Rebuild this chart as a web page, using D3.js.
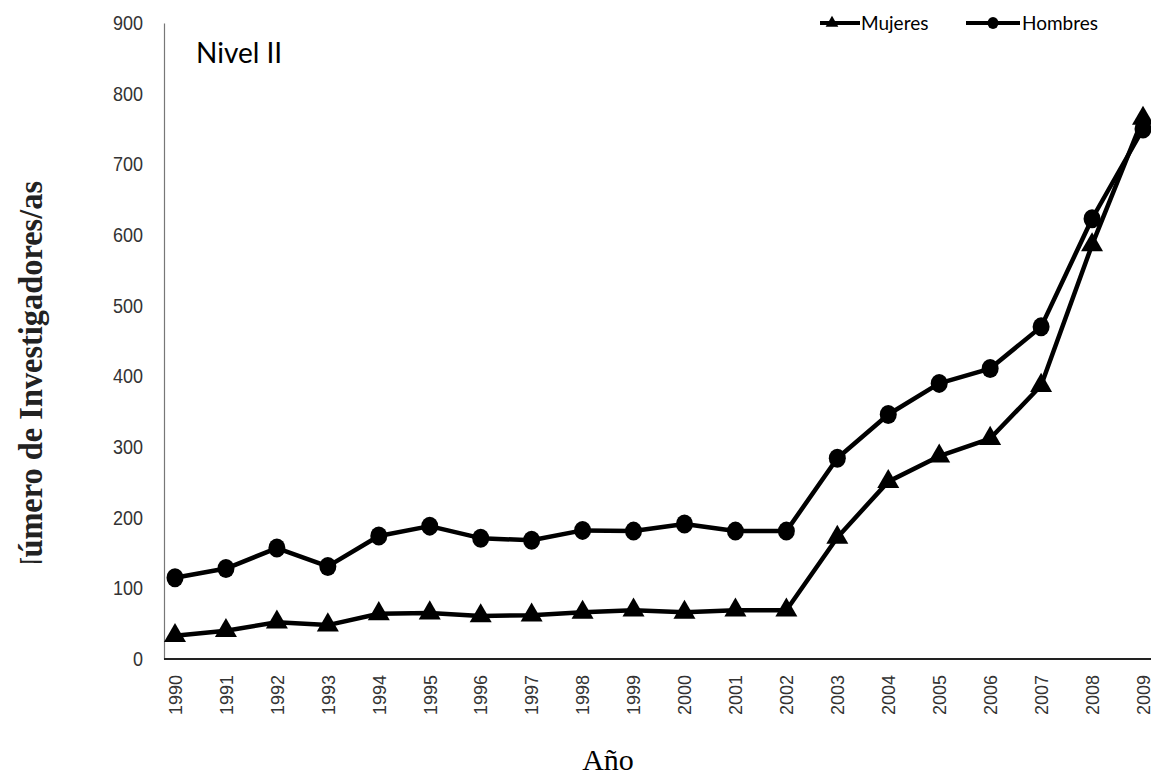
<!DOCTYPE html>
<html><head><meta charset="utf-8">
<script src="https://cdn.jsdelivr.net/npm/d3@7"></script>
<style>body{margin:0;background:#fff}svg{display:block}</style>
</head><body>
<svg id="c" width="1151" height="778"></svg>
<script>
const years = [1990,1991,1992,1993,1994,1995,1996,1997,1998,1999,2000,2001,2002,2003,2004,2005,2006,2007,2008,2009];
const mujeres = [33,40,52,48,64,65,61,62,66,69,66,69,69,172,251,287,312,387,586,765];
const hombres = [115,128,157,131,174,188,171,168,182,181,191,181,181,284,346,390,411,470,623,750];
const yTicks = [0,100,200,300,400,500,600,700,800,900];

const svg = d3.select("#c");
const x = d3.scalePoint().domain(years).range([175,1143]);
const y = d3.scaleLinear().domain([0,900]).range([659,23]);

// axes
const yAxis = svg.append("g").attr("transform","translate(164,0)")
  .call(d3.axisLeft(y).tickValues(yTicks).tickSize(0).tickPadding(21));
yAxis.select(".domain").attr("stroke","#777").attr("stroke-width",1.2);
yAxis.selectAll("text").attr("font-family","Liberation Sans, Arial, sans-serif").attr("font-size",18).attr("fill","#333")
  .attr("transform","scale(1,1.1)").attr("dy","0.32em");

const xAxis = svg.append("g").attr("transform","translate(0,659)")
  .call(d3.axisBottom(x).tickSize(0).tickSizeOuter(0));
xAxis.select(".domain").attr("d","M164,0H1151").attr("stroke","#222").attr("stroke-width",2);
xAxis.selectAll("text")
  .attr("font-family","Liberation Sans, Arial, sans-serif").attr("font-size",18).attr("fill","#333")
  .attr("transform","rotate(-90)").attr("text-anchor","end")
  .attr("x",-16).attr("y",0).attr("dy","0.35em");

// lines
const line = d3.line().x((d,i)=>x(years[i])).y(d=>y(d));
svg.append("path").datum(hombres).attr("d",line).attr("fill","none").attr("stroke","#000").attr("stroke-width",4.5).attr("stroke-linejoin","round");
svg.append("path").datum(mujeres).attr("d",line).attr("fill","none").attr("stroke","#000").attr("stroke-width",4.5).attr("stroke-linejoin","round");

const tri = d3.symbol().type(d3.symbolTriangle).size(210);
svg.append("g").selectAll("path").data(mujeres).join("path")
  .attr("d",tri).attr("transform",(d,i)=>`translate(${x(years[i])},${y(d)})`).attr("fill","#000");
svg.append("g").selectAll("ellipse").data(hombres).join("ellipse")
  .attr("cx",(d,i)=>x(years[i])).attr("cy",d=>y(d)).attr("rx",8.5).attr("ry",9.5).attr("fill","#000");

// legend
const lg = svg.append("g").attr("font-family","Lato, Open Sans, sans-serif").attr("font-size",19);
lg.append("line").attr("x1",820).attr("x2",860).attr("y1",23).attr("y2",23).attr("stroke","#000").attr("stroke-width",4);
lg.append("path").attr("d",d3.symbol().type(d3.symbolTriangle).size(70)).attr("transform","translate(832,23)");
lg.append("text").attr("x",861).attr("y",30).text("Mujeres");
lg.append("line").attr("x1",966).attr("x2",1020).attr("y1",23).attr("y2",23).attr("stroke","#000").attr("stroke-width",4);
lg.append("ellipse").attr("cx",993).attr("cy",23).attr("rx",5.5).attr("ry",6);
lg.append("text").attr("x",1022).attr("y",30).text("Hombres");

// annotation
svg.append("text").attr("x",196).attr("y",63).attr("font-family","Lato, Open Sans, sans-serif").attr("font-size",28).text("Nivel II");

// axis titles
svg.append("text").attr("x",608).attr("y",770).attr("text-anchor","middle")
  .attr("font-family","Liberation Serif, Times New Roman, serif").attr("font-size",30).text("Año");
svg.append("clipPath").attr("id","yclip").append("rect").attr("x",0).attr("y",0).attr("width",100).attr("height",563);
svg.append("g").attr("clip-path","url(#yclip)")
  .append("text").attr("transform","translate(42,381) rotate(-90)").attr("text-anchor","middle")
  .attr("font-family","Liberation Serif, Times New Roman, serif").attr("font-size",34).attr("font-weight","bold")
  .attr("fill","#222")
  .attr("textLength",400).attr("lengthAdjust","spacingAndGlyphs")
  .text("Número de Investigadores/as");
</script>
</body></html>
